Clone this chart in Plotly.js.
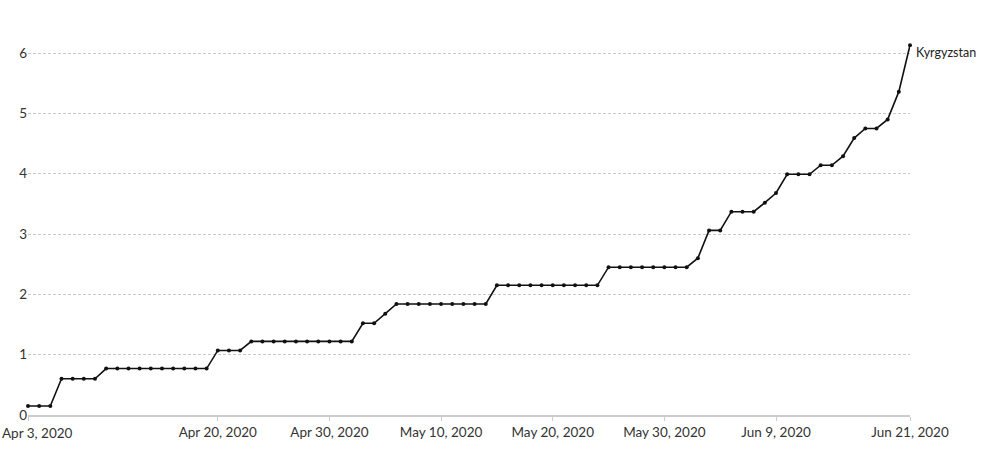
<!DOCTYPE html>
<html>
<head>
<meta charset="utf-8">
<script src="https://cdn.plot.ly/plotly-3.0.1.min.js"></script>
<style>
  html, body { margin: 0; padding: 0; background: #fff; }
  #chart { width: 1008px; height: 455px; }
</style>
</head>
<body>
<div id="chart"></div>
<script>
"use strict";

// one value per day, Apr 3 .. Jun 21 2020
const startDate = "2020-04-03";
const country = "Kyrgyzstan";
const values = [
  0.15, 0.15, 0.15,
  0.60, 0.60, 0.60, 0.60,
  0.77, 0.77, 0.77, 0.77, 0.77, 0.77, 0.77, 0.77, 0.77, 0.77,
  1.07, 1.07, 1.07,
  1.22, 1.22, 1.22, 1.22, 1.22, 1.22, 1.22, 1.22, 1.22, 1.22,
  1.52, 1.52, 1.68,
  1.84, 1.84, 1.84, 1.84, 1.84, 1.84, 1.84, 1.84, 1.84,
  2.15, 2.15, 2.15, 2.15, 2.15, 2.15, 2.15, 2.15, 2.15, 2.15,
  2.45, 2.45, 2.45, 2.45, 2.45, 2.45, 2.45, 2.45,
  2.60, 3.06, 3.06,
  3.37, 3.37, 3.37, 3.52, 3.68,
  3.99, 3.99, 3.99, 4.14, 4.14, 4.29,
  4.59, 4.75, 4.75, 4.90, 5.36, 6.13
];

const tickDates  = ["2020-04-03", "2020-04-20", "2020-04-30", "2020-05-10",
                    "2020-05-20", "2020-05-30", "2020-06-09", "2020-06-21"];
const tickLabels = ["Apr 3, 2020", "Apr 20, 2020", "Apr 30, 2020", "May 10, 2020",
                    "May 20, 2020", "May 30, 2020", "Jun 9, 2020", "Jun 21, 2020"];
const yTicks = [0, 1, 2, 3, 4, 5, 6];

// build the date list from the start date
function dayString(base, n) {
  let d = new Date(base + "T00:00:00Z");
  d.setUTCDate(d.getUTCDate() + n);
  return d.toISOString().slice(0, 10);
}
let dates = values.map((v, i) => dayString(startDate, i));

let trace = {
  x: dates, y: values,
  type: "scatter", mode: "lines+markers",
  line: {color: "#111", width: 1.6},
  marker: {color: "#111", size: 4},
  cliponaxis: false,
  hoverinfo: "x+y",
  showlegend: false
};

// first date label sits at the edge, plotly drops it, so it goes in as an annotation
let axisTicks = tickLabels.map((t, i) => (i === 0 ? "" : t));

let layout = {
  width: 1008, height: 455,
  margin: {l: 28, r: 98, t: 44, b: 40},
  paper_bgcolor: "#fff", plot_bgcolor: "#fff",
  font: {family: "Lato, 'Open Sans', sans-serif", size: 13, color: "#333"},
  xaxis: {
    type: "date",
    range: [startDate, dates[dates.length - 1]],
    tickvals: tickDates, ticktext: axisTicks,
    showgrid: false, zeroline: false,
    showline: true, linecolor: "#ccc", linewidth: 1.5,
    ticks: "outside", ticklen: 4, tickcolor: "#ccc",
    tickfont: {size: 13.5, color: "#333"}
  },
  yaxis: {
    range: [0, 6.15],
    tickvals: yTicks,
    showgrid: true, gridcolor: "#c8c8c8", griddash: "3px,2px", gridwidth: 1,
    zeroline: false, showline: false, ticks: "",
    tickfont: {size: 13.5, color: "#333"}
  },
  annotations: [{
    x: dates[dates.length - 1], y: values[values.length - 1],
    xref: "x", yref: "y", text: country,
    showarrow: false, xanchor: "left", yanchor: "top",
    xshift: 4, yshift: 2,
    font: {size: 12.5, color: "#222"}
  }, {
    x: 0, y: 0, xref: "paper", yref: "paper",
    text: tickLabels[0], showarrow: false,
    xanchor: "left", yanchor: "top",
    xshift: -28, yshift: -8,
    font: {size: 13.5, color: "#333"}
  }]
};

Plotly.newPlot("chart", [trace], layout, {displayModeBar: false, staticPlot: true});
</script>
</body>
</html>
